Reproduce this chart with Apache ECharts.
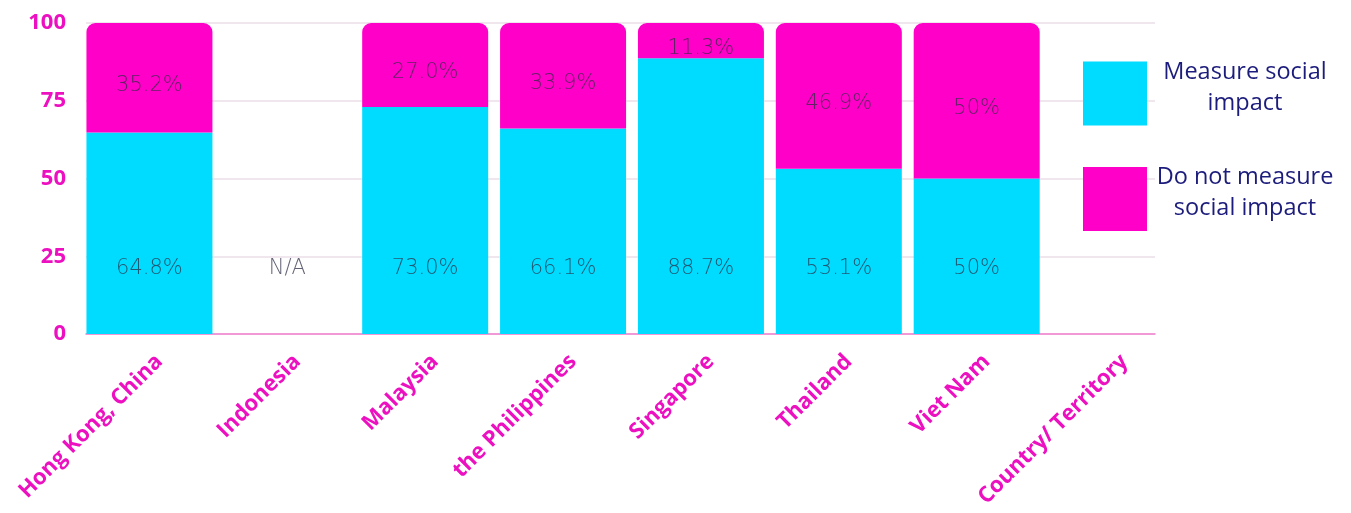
<!DOCTYPE html>
<html><head><meta charset="utf-8">
<script src="https://cdn.jsdelivr.net/npm/echarts@6/dist/echarts.min.js"></script>
<style>html,body{margin:0;padding:0;background:#fff}#c{width:1351px;height:513px}</style>
</head><body><div id="c"></div>
<script>
const categories = ['Hong Kong, China','Indonesia','Malaysia','the Philippines','Singapore','Thailand','Viet Nam','Country/ Territory'];
const measure = [64.8, 0, 73.0, 66.1, 88.7, 53.1, 50, null];
const notMeasure = [35.2, null, 27.0, 33.9, 11.3, 46.9, 50, null];
const measureLabels = ['64.8%','N/A','73.0%','66.1%','88.7%','53.1%','50%',''];
const notMeasureLabels = ['35.2%','','27.0%','33.9%','11.3%','46.9%','50%',''];
const yTicks = [0, 25, 50, 75, 100];

const MAG = '#ff00c8', CYAN = '#00dcff', LABEL = '#ec10c0';
const chart = echarts.init(document.getElementById('c'));
const valueLabel = {
  show: true, color: 'rgba(45,45,70,0.75)', fontFamily: 'DejaVu Sans', fontWeight: 200, fontSize: 21
};
chart.setOption({
  animation: false,
  grid: [
    {left: 80.5, top: 23, width: 1103, height: 311},
    {left: 86, top: 23, width: 1069, height: 311}
  ],
  legend: {
    orient: 'vertical', left: 1083, top: 60, padding: 0, itemWidth: 64, itemHeight: 64, itemGap: 40,
    icon: 'rect',
    itemStyle: {borderRadius: 0, borderWidth: 0},
    formatter: n => n.split('\n').map(s => '{c|' + s + '}').join('\n'),
    textStyle: {
      rich: {c: {width: 186, align: 'center', fontFamily: 'Open Sans', fontSize: 23.5, color: '#1c1c7c', lineHeight: 31}},
      padding: [0, 0, 12, 0]
    },
    data: ['Measure social\nimpact', 'Do not measure\nsocial impact']
  },
  xAxis: [
    {type: 'category', gridIndex: 0, data: categories,
     axisLine: {show: false}, axisTick: {show: false}, splitLine: {show: false},
     axisLabel: {rotate: 45, margin: 34, padding: [0, -14, 0, 0], color: LABEL, fontFamily: 'Open Sans', fontWeight: 'bold', fontSize: 22, interval: 0}},
    {type: 'value', gridIndex: 1, min: 0, max: 1, axisLabel: {show: false}, axisTick: {show: false},
     splitLine: {show: false}, axisLine: {show: true, lineStyle: {color: '#f27fd0', width: 1.5}}}
  ],
  yAxis: [
    {type: 'value', gridIndex: 0, min: 0, max: 100, show: false, splitLine: {show: false}},
    {type: 'value', gridIndex: 1, min: 0, max: 100, interval: 25,
     axisLine: {show: false}, axisTick: {show: false},
     axisLabel: {margin: 20, color: LABEL, fontFamily: 'Open Sans', fontWeight: 'bold', fontSize: 22,
       formatter: v => yTicks.includes(v) ? String(v) : ''},
     splitLine: {lineStyle: {color: '#eadfe7', width: 1.5}}}
  ],
  series: [
    {name: 'Measure social\nimpact', type: 'bar', stack: 's', xAxisIndex: 0, yAxisIndex: 0, barWidth: 126,
     itemStyle: {color: CYAN},
     label: Object.assign({}, valueLabel, {position: 'insideBottom', distance: 55,
       formatter: p => measureLabels[p.dataIndex]}),
     data: measure},
    {name: 'Do not measure\nsocial impact', type: 'bar', stack: 's', xAxisIndex: 0, yAxisIndex: 0, barWidth: 126,
     itemStyle: {color: MAG, borderRadius: [9, 9, 0, 0]},
     label: Object.assign({}, valueLabel, {position: 'inside', offset: [0, 8],
       formatter: p => notMeasureLabels[p.dataIndex]}),
     data: notMeasure}
  ]
});
</script></body></html>
